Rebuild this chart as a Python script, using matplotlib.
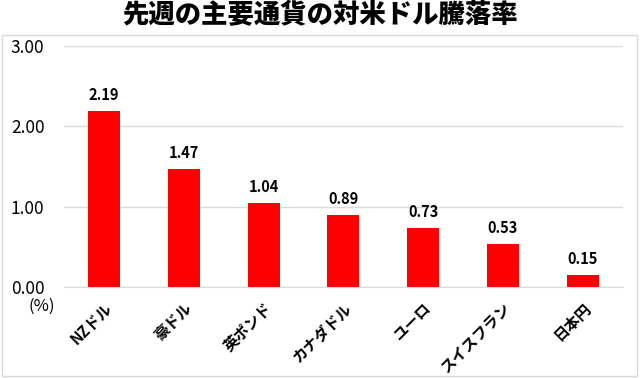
import matplotlib.pyplot as plt
from matplotlib.patches import Rectangle

plt.rcParams['font.family'] = ['Noto Sans CJK JP', 'DejaVu Sans']

# data
currencies = ['NZドル', '豪ドル', '英ポンド', 'カナダドル', 'ユーロ', 'スイスフラン', '日本円']
change_pct = [2.19, 1.47, 1.04, 0.89, 0.73, 0.53, 0.15]
yticks = [0.0, 1.0, 2.0, 3.0]

fig = plt.figure(figsize=(6.4, 3.78), dpi=100)
ax = fig.add_axes([0.1, 0.241, 0.873, 0.638])

x = range(len(currencies))
ax.bar(x, change_pct, width=0.4, color='#ff0000', zorder=3)

# value labels
for i, v in zip(x, change_pct):
    ax.text(i, v + 0.1, f'{v:.2f}', ha='center', va='bottom',
            fontsize=10.5, fontweight='bold', color='black')

ax.set_xlim(-0.5, len(currencies) - 0.5)
ax.set_ylim(0, 3.0)
ax.set_yticks(yticks)
ax.set_yticklabels([f'{t:.2f}' for t in yticks], fontsize=12.5)
ax.yaxis.grid(True, color='#d9d9d9', linewidth=1, zorder=0)
ax.set_xticks(list(x))
ax.set_xticklabels(currencies, rotation=45, ha='right', va='top',
                   rotation_mode='anchor', fontsize=11, fontweight='bold')
ax.tick_params(axis='both', length=0)
ax.tick_params(axis='y', pad=14)
ax.tick_params(axis='x', pad=9)

for s in ['top', 'right', 'left']:
    ax.spines[s].set_visible(False)
ax.spines['bottom'].set_color('#d9d9d9')
ax.spines['bottom'].set_zorder(4)

# unit
ax.text(-0.016, -0.045, '(%)', transform=ax.transAxes, ha='right', va='top',
        fontsize=12)

# title
fig.text(0.5, 0.962, '先週の主要通貨の対米ドル騰落率', ha='center', va='center',
         fontsize=19, fontweight='black')

# chart border
fig.patches.append(Rectangle((0.003, 0.004), 0.993, 0.904, transform=fig.transFigure,
                             fill=False, edgecolor='#d9d9d9', linewidth=1))

fig.savefig('out.png', dpi=100)
